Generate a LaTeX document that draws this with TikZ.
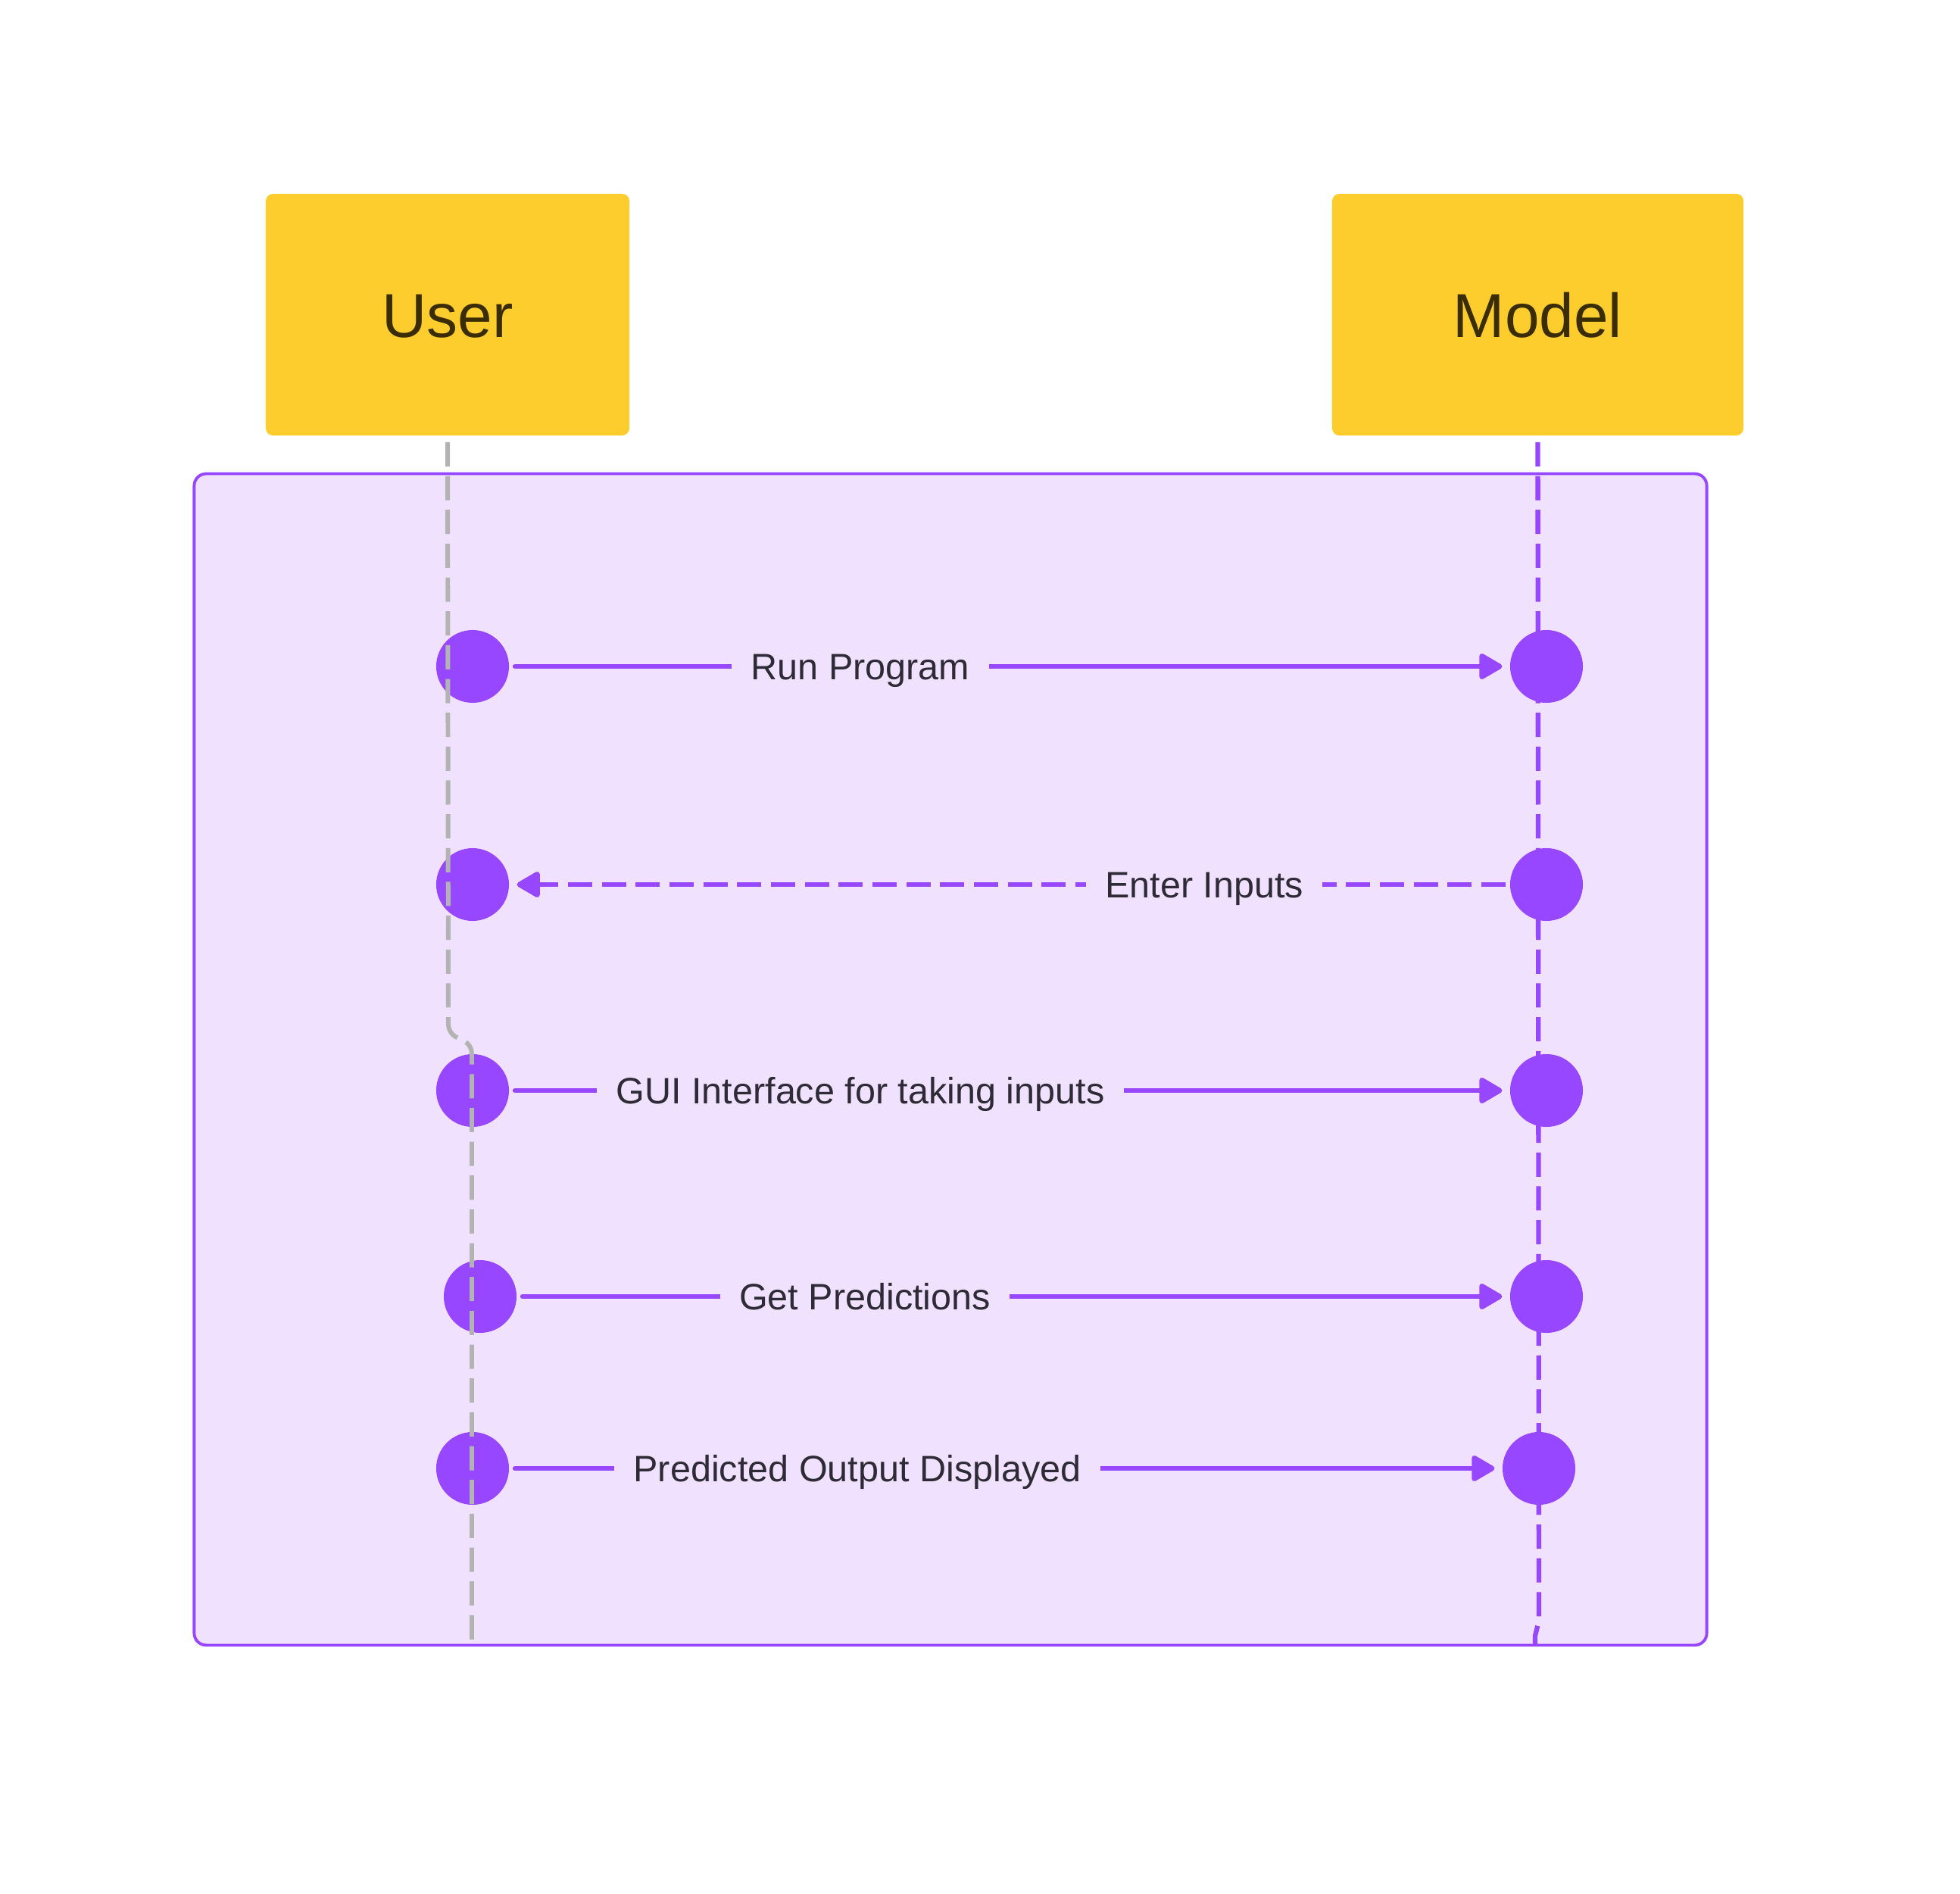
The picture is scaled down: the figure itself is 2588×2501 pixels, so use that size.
\documentclass[tikz,border=0pt]{standalone}
\usepackage{fontspec}
\setmainfont{Liberation Sans}
\usetikzlibrary{arrows.meta}
\definecolor{ppl}{HTML}{9747FF}
\definecolor{lav}{HTML}{F0E2FE}
\definecolor{ylw}{HTML}{FDCD2E}
\definecolor{gry}{HTML}{B3B3B3}
\definecolor{ttl}{HTML}{3A2D05}
\definecolor{lbltxt}{HTML}{2E2A36}
\begin{document}
\begin{tikzpicture}[x=0.01cm,y=-0.01cm,
 actor/.style={fill=ylw, rounded corners=2.8pt, minimum height=3.19cm, inner sep=0pt, font=\fontsize{23.3}{28}\selectfont, text=ttl, text height=22.6pt, text depth=5.8pt},
 dot/.style={circle, fill=ppl, minimum size=0.96cm, inner sep=0pt, outer sep=0pt},
 msg/.style={draw=ppl, line width=1.9pt, line cap=round, -{Triangle[length=9.6pt,width=10.6pt,round]}, shorten >=3pt, shorten <=2.3pt},
 reply/.style={draw=ppl, line width=1.9pt, line cap=butt, dash pattern=on 9.1pt off 3.6pt, -{Triangle[length=9.6pt,width=10.6pt,round]}, shorten >=3pt, shorten <=1.7pt},
 lbl/.style={fill=lav, text=lbltxt, inner xsep=7.2pt, inner ysep=2pt, text height=13.4pt, text depth=3.45pt, font=\fontsize{13.8}{16}\selectfont},
 plife/.style={draw=ppl, line width=1.8pt, dash pattern=on 9.1pt off 3.6pt},
 glife/.style={draw=gry, line width=1.7pt, dash pattern=on 9.1pt off 3.6pt, rounded corners=3pt},
 frame/.style={draw=ppl, fill=lav, line width=1.1pt, rounded corners=4.5pt}]
\useasboundingbox (0,0) rectangle (2588,2501);
\fill[white] (0,0) rectangle (2588,2501);

% frame
\node[frame, minimum width=19.96cm, minimum height=15.46cm, inner sep=0pt] (frm) at (1255,1399) {};

% actors
\node[actor, minimum width=4.80cm] (user) at (591,415.5) {User};
\node[actor, minimum width=5.43cm] (model) at (2030.5,415.5) {Model};

% lifeline coordinates
\coordinate (mA) at (2032,2140);
\coordinate (mB) at (2027,2160);
\coordinate (mEnd) at (2027,2172);
\coordinate (uA) at (592,1364);
\coordinate (uB) at (623,1380);
\coordinate (uEnd) at (623,2167);

% model lifeline
\draw[plife, shorten <=2.3pt] (model.south) -- (mA) -- (mB) -- (mEnd);

% activation circles
\node[dot] (u1) at (624,880) {};
\node[dot] (u2) at (624,1168) {};
\node[dot] (u3) at (624,1440) {};
\node[dot] (u4) at (634,1712) {};
\node[dot] (u5) at (624,1939) {};
\node[dot] (m1) at (2042,880) {};
\node[dot] (m2) at (2042,1168) {};
\node[dot] (m3) at (2042,1440) {};
\node[dot] (m4) at (2042,1712) {};
\node[dot] (m5) at (2032,1939) {};

% user lifeline
\draw[glife, shorten <=2.3pt] (user.south) -- (uA) -- (uB) -- (uEnd);

% messages
\draw[msg] (u1) -- (m1);
\draw[reply] (m2) -- (u2);
\draw[msg] (u3) -- (m3);
\draw[msg] (u4) -- (m4);
\draw[msg] (u5) -- (m5);

% labels
\node[lbl] (l1) at (1136,880) {Run Program};
\node[lbl] (l2) at (1590,1168) {Enter Inputs};
\node[lbl] (l3) at (1136,1440) {GUI Interface for taking inputs};
\node[lbl] (l4) at (1142,1712) {Get Predictions};
\node[lbl] (l5) at (1132,1939) {Predicted Output Displayed};
\end{tikzpicture}
\end{document}
